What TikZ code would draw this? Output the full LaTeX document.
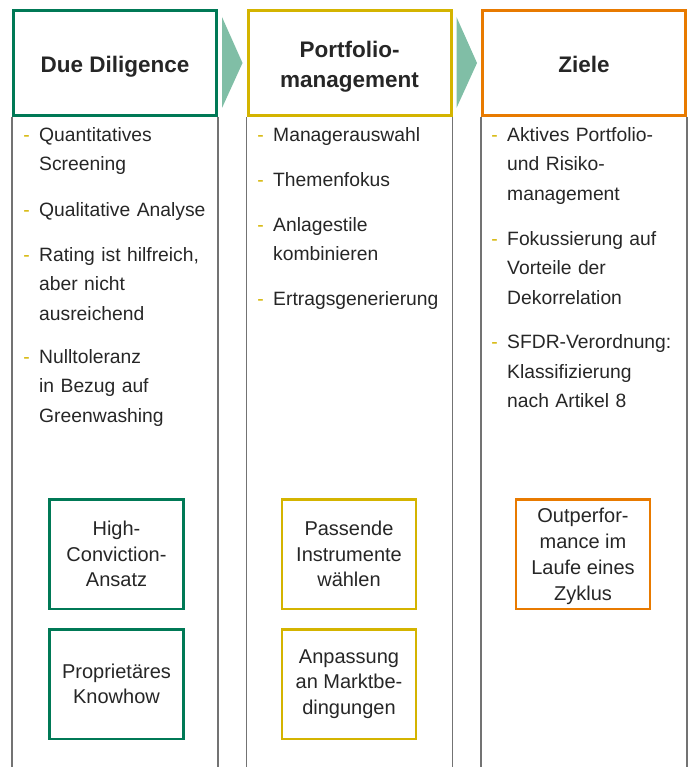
\documentclass[tikz,border=0pt]{standalone}
\usepackage{fontspec}
\setmainfont{Liberation Sans}
\usetikzlibrary{positioning,calc}
\definecolor{ddgreen}{RGB}{0,121,86}
\definecolor{pmyellow}{RGB}{212,180,0}
\definecolor{zorange}{RGB}{232,122,0}
\definecolor{arrowgreen}{RGB}{128,190,166}
\definecolor{colgray}{RGB}{115,115,115}
\definecolor{txt}{RGB}{38,38,38}
\newcommand{\bdash}{\makebox[0pt][r]{\textcolor{pmyellow}{-}\hspace{9.5pt}}}
\begin{document}
\begin{tikzpicture}[x=1pt,y=-1pt,
  head/.style={draw=#1, line width=3pt, minimum width=203pt, minimum height=105pt},
  headtxt/.style={align=center, text=txt, yshift=-4pt, font=\bfseries\fontsize{22.5}{30}\selectfont},
  item/.style={anchor=base west, text width=180pt, align=left, inner sep=0pt, text=txt, font=\fontsize{19.3}{29.5}\selectfont},
  goal/.style={draw=#1, line width=2.5pt, minimum width=134pt, minimum height=109.5pt, align=center, inner sep=2pt, text=txt, font=\fontsize{20}{25.5}\selectfont},
  col/.style={draw=colgray, line width=1.2pt}]
\useasboundingbox (0,0) rectangle (689,767);
% column heads
\node[head=ddgreen, label={[headtxt]center:Due Diligence}] (due) at (115,63) {};
\node[head=pmyellow, label={[headtxt]center:Portfolio-\\management}] (port) at (349.5,63) {};
\node[head=zorange, label={[headtxt, yshift=2.5pt]center:Ziele}] (ziele) at (584,63) {};
\foreach \n in {due,port,ziele}
  \draw[col] (\n.south west) -- (\n.south west |- 0,767) (\n.south east) -- (\n.south east |- 0,767);
\foreach \a/\b in {due/port,port/ziele}
  \fill[arrowgreen] ($(\a.north east)+(4,8)$) -- ($(\b.west)+(-4,0)$) -- ($(\a.south east)+(4,-9)$) -- cycle;
% Due Diligence
\node[item] (quant) at (39,141.5) {\bdash Quantitatives\\Screening};
\node[item] (qual) at (39,216) {\bdash Qualitative Analyse};
\node[item] (rating) at (39,261) {\bdash Rating ist hilfreich,\\aber nicht\\ausreichend};
\node[item] (null) at (39,363) {\bdash Nulltoleranz\\in Bezug auf\\Greenwashing};
% Portfoliomanagement
\node[item] (mgr) at (273,141.5) {\bdash Managerauswahl};
\node[item] (thema) at (273,186.5) {\bdash Themenfokus};
\node[item] (stile) at (273,231) {\bdash Anlagestile\\kombinieren};
\node[item] (ertrag) at (273,305.5) {\bdash Ertragsgenerierung};
% Ziele
\node[item] (aktiv) at (507,141.5) {\bdash Aktives Portfolio-\\und Risiko-\\management};
\node[item] (fokus) at (507,245) {\bdash Fokussierung auf\\Vorteile der\\Dekorrelation};
\node[item] (sfdr) at (507,348.5) {\bdash SFDR-Verordnung:\\Klassifizierung\\nach Artikel 8};
% boxes
\node[goal=ddgreen] (hca) at (116.5,554) {High-\\Conviction-\\Ansatz};
\node[goal=ddgreen, below=18pt of hca] (know) {Proprietäres\\Knowhow};
\node[goal=pmyellow] (instr) at (349,554) {Passende\\Instrumente\\wählen};
\node[goal=pmyellow, below=18pt of instr] (markt) {Anpassung\\an Marktbe-\\dingungen};
\node[goal=zorange, font=\fontsize{20}{26}\selectfont, text depth=0pt] (outp) at (583,554) {Outperfor-\\mance im\\Laufe eines\\Zyklus};
\end{tikzpicture}
\end{document}
